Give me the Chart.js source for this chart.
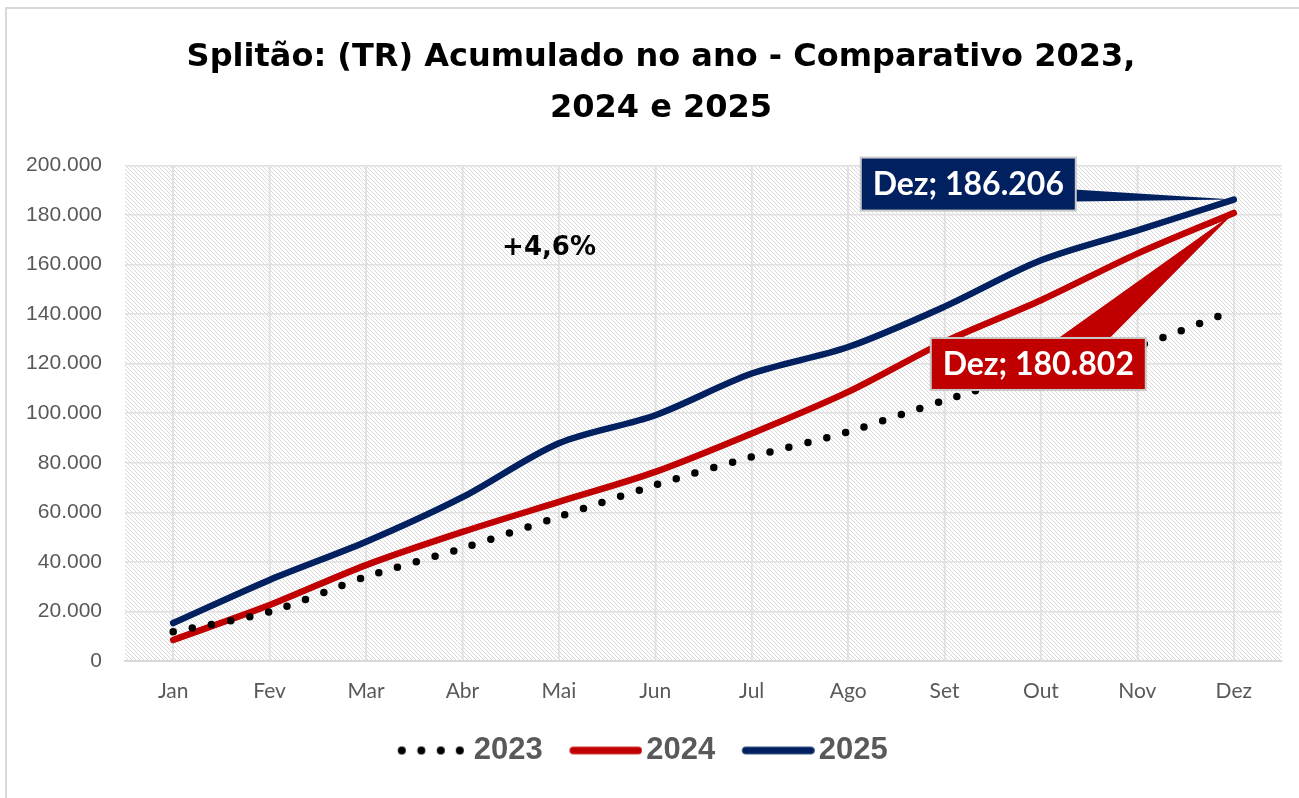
<!DOCTYPE html>
<html>
<head>
<meta charset="utf-8">
<script src="https://cdn.jsdelivr.net/npm/chart.js@4/dist/chart.umd.min.js"></script>
<style>
  html, body { margin: 0; padding: 0; background: #fff; }
  #wrap { width: 1299px; height: 798px; position: relative; }
</style>
</head>
<body>
<div id="wrap"><canvas id="lineChart" width="1299" height="798"></canvas></div>
<script>
// chart data
const months = ['Jan', 'Fev', 'Mar', 'Abr', 'Mai', 'Jun', 'Jul', 'Ago', 'Set', 'Out', 'Nov', 'Dez'];
const values2023 = [11800, 19900, 34000, 45500, 58200, 71000, 82400, 92500, 105200, 117000, 127000, 141500];
const values2024 = [8500, 22600, 38700, 52100, 64200, 76300, 91800, 108600, 128800, 145600, 164400, 180802];
const values2025 = [15300, 32700, 48100, 66100, 87900, 99200, 116000, 126700, 143000, 161700, 173800, 186206];
const seriesNames = ['2023', '2024', '2025'];
const yTicks = [0, 20000, 40000, 60000, 80000, 100000, 120000, 140000, 160000, 180000, 200000];
const growthNote = '+4,6%';

const fmt = v => String(v).replace(/\B(?=(\d{3})+(?!\d))/g, '.');

// diagonal hatch used as plot background
const makeHatch = () => {
  const c = document.createElement('canvas');
  c.width = 4; c.height = 4;
  const g = c.getContext('2d');
  g.fillStyle = '#ffffff';
  g.fillRect(0, 0, 4, 4);
  g.fillStyle = '#d8d8d8';
  for (let i = 0; i < 4; i++) {
    g.fillRect(i, i, 1, 1);
  }
  return c;
};

// small pictures for the legend samples (drawn a bit right of centre so the
// text sits close to the sample, like in the original)
const legendSample = (color, dotted) => {
  const c = document.createElement('canvas');
  c.width = 85; c.height = 10;
  const g = c.getContext('2d');
  g.fillStyle = color;
  g.strokeStyle = color;
  if (dotted) {
    [17, 36.5, 56, 75].forEach(x => {
      g.beginPath();
      g.arc(x, 5, 4, 0, Math.PI * 2);
      g.fill();
    });
  } else {
    g.lineWidth = 7.5;
    g.lineCap = 'round';
    g.beginPath();
    g.moveTo(16, 5);
    g.lineTo(81, 5);
    g.stroke();
  }
  return c;
};
const legendImages = [legendSample('#000000', true), legendSample('#C00000', false), legendSample('#002060', false)];

const plotBackground = {
  id: 'plotBackground',
  afterLayout(chart) {
    // title and legend sit slightly off the canvas centre in the original
    chart.titleBlock.left += 10; chart.titleBlock.right += 10;
    chart.legend.left -= 9; chart.legend.right -= 9;
  },
  beforeDraw(chart) {
    const {ctx, chartArea: a} = chart;
    ctx.save();
    ctx.fillStyle = ctx.createPattern(makeHatch(), 'repeat');
    ctx.fillRect(a.left, a.top, a.right - a.left, a.bottom - a.top);
    ctx.restore();
  },
  beforeDatasetsDraw(chart) {
    // extra vertical gridlines at each category centre
    const {ctx, chartArea: a, scales} = chart;
    ctx.save();
    ctx.strokeStyle = '#e0e0e0';
    ctx.lineWidth = 1.5;
    months.forEach((m, i) => {
      const x = scales.x.getPixelForValue(i);
      ctx.beginPath();
      ctx.moveTo(x, a.top);
      ctx.lineTo(x, a.bottom);
      ctx.stroke();
    });
    ctx.restore();
  },
  afterDraw(chart) {
    const ctx = chart.ctx;
    ctx.save();
    ctx.strokeStyle = '#d9d9d9';
    ctx.lineWidth = 2;
    ctx.strokeRect(6, 8, 1400, 1000);
    ctx.restore();
  }
};

// callout boxes for the last point + note text
const drawCallout = (ctx, text, color, box, wedge, pt) => {
  ctx.fillStyle = color;
  ctx.beginPath();
  ctx.moveTo(wedge[0][0], wedge[0][1]);
  ctx.lineTo(wedge[1][0], wedge[1][1]);
  ctx.lineTo(pt.x, pt.y);
  ctx.closePath();
  ctx.fill();
  ctx.fillRect(box.x, box.y, box.w, box.h);
  ctx.strokeStyle = '#c8c8c8';
  ctx.lineWidth = 2;
  ctx.strokeRect(box.x, box.y, box.w, box.h);
  ctx.fillStyle = '#ffffff';
  ctx.font = 'bold 32px Lato';
  ctx.textAlign = 'center';
  ctx.textBaseline = 'middle';
  ctx.fillText(text, box.x + box.w / 2, box.y + box.h / 2 + 1);
};

const callouts = {
  id: 'callouts',
  afterDatasetsDraw(chart) {
    const {ctx, chartArea: a} = chart;
    const last = months.length - 1;
    const p24 = chart.getDatasetMeta(1).data[last];
    const p25 = chart.getDatasetMeta(2).data[last];
    ctx.save();
    // 2025
    const b25 = {x: p25.x - 373, y: p25.y - 42, w: 215, h: 53};
    drawCallout(ctx, months[last] + '; ' + fmt(values2025[last]), '#002060', b25,
      [[b25.x + b25.w - 2, p25.y - 10], [b25.x + b25.w - 2, p25.y + 2]], p25);
    // 2024
    const b24 = {x: p24.x - 303, y: p24.y + 125, w: 215, h: 52};
    drawCallout(ctx, months[last] + '; ' + fmt(values2024[last]), '#C00000', b24,
      [[b24.x + 125, b24.y + 2], [b24.x + 177, b24.y + 2]], p24);
    // growth note
    ctx.fillStyle = '#000000';
    ctx.font = 'bold 26px "DejaVu Sans"';
    ctx.textAlign = 'center';
    ctx.textBaseline = 'middle';
    ctx.fillText(growthNote, a.left + (a.right - a.left) * 0.3665, a.top + 83);
    ctx.restore();
  }
};

const ctx = document.getElementById('lineChart').getContext('2d');
const lineChart = new Chart(ctx, {
  type: 'line',
  data: {
    labels: months,
    datasets: [
      {
        label: seriesNames[0],
        data: values2023,
        borderColor: '#000000',
        backgroundColor: '#000000',
        borderWidth: 7.5,
        borderDash: [0, 19.5],
        borderCapStyle: 'round',
        pointRadius: 0,
        tension: 0.3
      },
      {
        label: seriesNames[1],
        data: values2024,
        borderColor: '#C00000',
        backgroundColor: '#C00000',
        borderWidth: 6.5,
        borderCapStyle: 'round',
        pointRadius: 0,
        tension: 0.3
      },
      {
        label: seriesNames[2],
        data: values2025,
        borderColor: '#002060',
        backgroundColor: '#002060',
        borderWidth: 6.5,
        borderCapStyle: 'round',
        pointRadius: 0,
        tension: 0.3
      }
    ]
  },
  options: {
    responsive: false,
    animation: false,
    devicePixelRatio: 1,
    layout: { padding: { left: 20, right: 17, top: 0, bottom: 22 } },
    plugins: {
      title: {
        display: true,
        text: ['Splitão: (TR) Acumulado no ano - Comparativo 2023,', '2024 e 2025'],
        color: '#000000',
        font: { family: 'DejaVu Sans', size: 32, weight: 'bold', lineHeight: 1.6 },
        padding: { top: 32, bottom: 31 }
      },
      legend: {
        position: 'bottom',
        labels: {
          usePointStyle: true,
          pointStyleWidth: 62,
          padding: 26,
          color: '#595959',
          font: { family: 'Liberation Sans', size: 31, weight: 'bold' },
          generateLabels: chart => {
            const items = Chart.defaults.plugins.legend.labels.generateLabels(chart);
            items.forEach((it, i) => { it.pointStyle = legendImages[i]; });
            return items;
          }
        }
      },
      tooltip: { enabled: false }
    },
    scales: {
      x: {
        offset: true,
        grid: { color: '#e0e0e0', lineWidth: 1.5, drawTicks: false },
        border: { color: '#d9d9d9', width: 2 },
        ticks: {
          padding: 18,
          color: '#595959',
          font: { family: 'Lato', size: 21 }
        },
        afterFit: s => { s.height = 48; }
      },
      y: {
        min: 0,
        max: 200000,
        afterBuildTicks: s => { s.ticks = yTicks.map(v => ({ value: v })); },
        grid: { color: '#e0e0e0', lineWidth: 1.5, drawTicks: false },
        border: { display: false },
        ticks: {
          padding: 23,
          color: '#595959',
          font: { family: 'Liberation Sans', size: 21 },
          callback: v => fmt(v)
        },
        afterFit: s => { s.width = 105; }
      }
    }
  },
  plugins: [plotBackground, callouts]
});
</script>
</body>
</html>
